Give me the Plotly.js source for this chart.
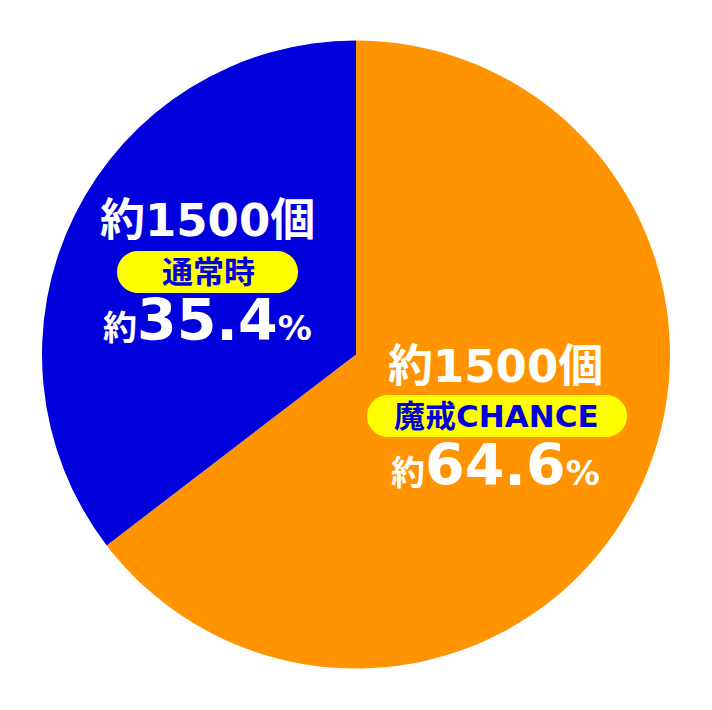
<!DOCTYPE html>
<html>
<head>
<meta charset="utf-8">
<script src="https://cdn.plot.ly/plotly-3.0.1.min.js"></script>
<style>html,body{margin:0;padding:0;background:#fff;}#chart{width:712px;height:710px;}</style>
</head>
<body>
<div id="chart"></div>
<script>
// Data
const labels = ['魔戒CHANCE', '通常時'];
const shares = [64.6, 35.4];
const counts = ['約1500個', '約1500個'];
const colors = ['#FF9400', '#0000DC'];

const W = 712, H = 710;
const FONT = 'DejaVu Sans, Noto Sans CJK JP, sans-serif';
const fx = x => x / W;
const fy = y => 1 - y / H;

function pill(x0, y0, x1, y1) {
  const r = (y1 - y0) / 2, k = 0.5523 * r, ym = (y0 + y1) / 2;
  const P = (x, y) => fx(x).toFixed(5) + ',' + fy(y).toFixed(5);
  return 'M' + P(x0 + r, y0) + ' L' + P(x1 - r, y0) +
    ' C' + P(x1 - r + k, y0) + ' ' + P(x1, ym - k) + ' ' + P(x1, ym) +
    ' C' + P(x1, ym + k) + ' ' + P(x1 - r + k, y1) + ' ' + P(x1 - r, y1) +
    ' L' + P(x0 + r, y1) +
    ' C' + P(x0 + r - k, y1) + ' ' + P(x0, ym + k) + ' ' + P(x0, ym) +
    ' C' + P(x0, ym - k) + ' ' + P(x0 + r - k, y0) + ' ' + P(x0 + r, y0) + ' Z';
}

// label group placement (pixels)
const groups = [
  {cx: 495, l1: 366, pill: [367, 395, 627, 437], pc: [497, 416], l3: 465},
  {cx: 207, l1: 220, pill: [117, 251, 298, 293], pc: [208, 272], l3: 320}
];

const shapes = [];
const annotations = [];
groups.forEach((g, i) => {
  shapes.push({type: 'path', xref: 'paper', yref: 'paper', path: pill(...g.pill),
    fillcolor: '#FFFF00', line: {width: 0}, layer: 'above'});
  annotations.push({xref: 'paper', yref: 'paper', x: fx(g.cx), y: fy(g.l1),
    xanchor: 'center', yanchor: 'middle', showarrow: false, text: counts[i],
    font: {family: FONT, size: 45, color: '#FFFFFF', weight: 'bold'}});
  annotations.push({xref: 'paper', yref: 'paper', x: fx(g.pc[0]), y: fy(g.pc[1]),
    xanchor: 'center', yanchor: 'middle', showarrow: false, text: labels[i],
    font: {family: FONT, size: 31, color: '#0000DC', weight: 'bold'}});
  annotations.push({xref: 'paper', yref: 'paper', x: fx(g.cx), y: fy(g.l3),
    xanchor: 'center', yanchor: 'middle', showarrow: false,
    text: '<span style="font-size:34px">約</span>' + shares[i].toFixed(1) + '<span style="font-size:34px">%</span>',
    font: {family: FONT, size: 57, color: '#FFFFFF', weight: 'bold'}});
});

const trace = {
  type: 'pie', labels: labels, values: shares, sort: false,
  direction: 'clockwise', rotation: 0,
  marker: {colors: colors, line: {width: 0}},
  textinfo: 'none', hoverinfo: 'none',
  domain: {x: [fx(42), fx(670)], y: [fy(669), fy(40)]}
};

const layout = {
  width: W, height: H, margin: {l: 0, r: 0, t: 0, b: 0},
  paper_bgcolor: '#FFFFFF', showlegend: false,
  shapes: shapes, annotations: annotations
};

Plotly.newPlot('chart', [trace], layout, {displayModeBar: false, staticPlot: true});
</script>
</body>
</html>
